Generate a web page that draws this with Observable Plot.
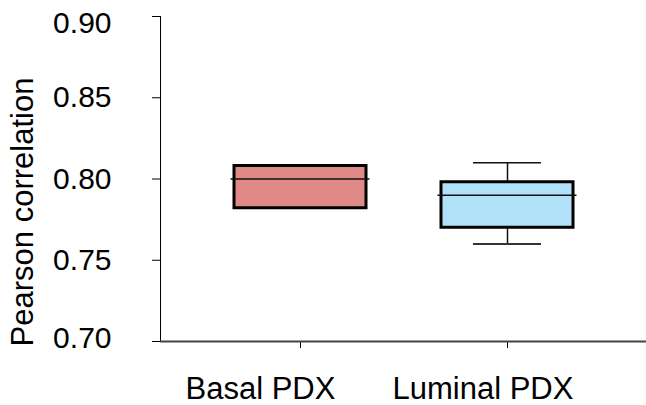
<!DOCTYPE html>
<html>
<head>
<meta charset="utf-8">
<script src="https://cdn.jsdelivr.net/npm/d3@7"></script>
<script src="https://cdn.jsdelivr.net/npm/@observablehq/plot@0.6"></script>
<style>
  html, body { margin: 0; padding: 0; background: #fff; }
  svg { display: block; }
</style>
</head>
<body>
<div id="chart"></div>
<script>
// Pearson correlation summaries per PDX group (box = quartiles, line = median)
const groups = ["Basal PDX", "Luminal PDX"];
const q1 = [0.782, 0.770];
const medians = [0.800, 0.790];
const q3 = [0.808, 0.798];
const whiskerLow = [null, 0.760];
const whiskerHigh = [null, 0.810];
const fills = ["#e08a87", "#b1e1f8"];
const yTicks = [0.70, 0.75, 0.80, 0.85, 0.90];

const rows = groups.map((g, i) => ({
  group: g, q1: q1[i], median: medians[i], q3: q3[i],
  lo: whiskerLow[i], hi: whiskerHigh[i], fill: fills[i]
}));
const withWhiskers = rows.filter(d => d.lo != null && d.hi != null);
const fmt = d3.format(".2f");
const yMin = d3.min(yTicks), yMax = d3.max(yTicks);

const chart = Plot.plot({
  width: 646,
  height: 405,
  marginLeft: 160,
  marginRight: 0,
  marginTop: 16,
  marginBottom: 64,
  style: {
    fontFamily: "'Liberation Sans', Arial, sans-serif",
    fontSize: "30px",
    color: "#000",
    background: "#fff",
    overflow: "visible"
  },
  // tick marks come from the scale axes; their labels are drawn as text marks below
  x: {domain: groups, paddingInner: 0.364, paddingOuter: 0.355, label: null, tickSize: 7, tickFormat: () => ""},
  y: {domain: [yMin, yMax], ticks: yTicks, tickFormat: () => "", label: null, tickSize: 8, line: true},
  color: {type: "identity"},
  marks: [
    // whiskers
    Plot.ruleX(withWhiskers, {x: "group", y1: "lo", y2: "q1", stroke: "#111", strokeWidth: 1.5}),
    Plot.ruleX(withWhiskers, {x: "group", y1: "q3", y2: "hi", stroke: "#111", strokeWidth: 1.5}),
    Plot.tickY(withWhiskers, {x: "group", y: "lo", stroke: "#333", strokeWidth: 2, insetLeft: 32, insetRight: 32}),
    Plot.tickY(withWhiskers, {x: "group", y: "hi", stroke: "#111", strokeWidth: 1.5, insetLeft: 32, insetRight: 32}),
    // boxes
    Plot.barY(rows, {x: "group", y1: "q1", y2: "q3", fill: "fill", stroke: "#000", strokeWidth: 3}),
    // medians
    Plot.tickY(rows, {x: "group", y: "median", stroke: "#111", strokeWidth: 1.5, insetLeft: -3.5, insetRight: -3.5}),
    // baseline
    Plot.ruleY([yMin], {stroke: "#444", strokeWidth: 2}),
    // y tick labels (end labels nudged inward)
    Plot.text(yTicks.filter(d => d > yMin && d < yMax), {
      y: d => d, text: fmt, frameAnchor: "left", textAnchor: "end", dx: -49, fontSize: 30, fill: "#000"
    }),
    Plot.text([yMax], {
      y: d => d, text: fmt, frameAnchor: "left", textAnchor: "end", dx: -49, dy: 7, fontSize: 30, fill: "#000"
    }),
    Plot.text([yMin], {
      y: d => d, text: fmt, frameAnchor: "left", textAnchor: "end", dx: -49, dy: -3, fontSize: 30, fill: "#000"
    }),
    // x category labels
    Plot.text(groups, {
      x: d => d, text: d => d, frameAnchor: "bottom", textAnchor: "start", lineAnchor: "top",
      dx: -115, dy: 35, fontSize: 31, fill: "#000"
    }),
    // y-axis title
    Plot.text(["Pearson correlation"], {
      frameAnchor: "left", textAnchor: "middle", rotate: -90, dx: -137, dy: 33,
      fontSize: 31, fill: "#000"
    })
  ]
});

document.getElementById("chart").append(chart);
</script>
</body>
</html>
